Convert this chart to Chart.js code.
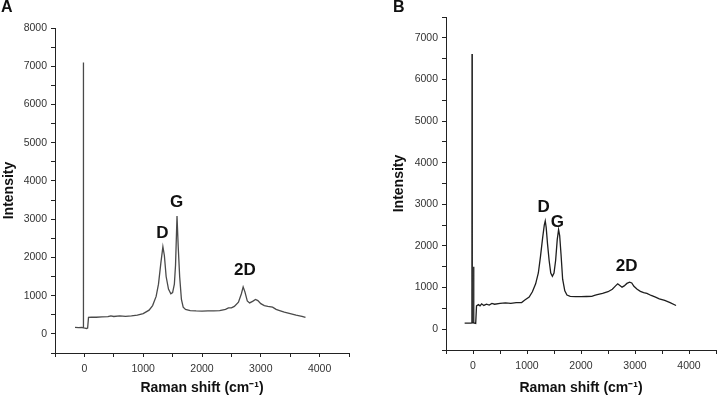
<!DOCTYPE html>
<html>
<head>
<meta charset="utf-8">
<script src="https://cdn.jsdelivr.net/npm/chart.js@4"></script>
<style>
  body { margin: 0; background: #fff; font-family: "Liberation Sans", Arial, sans-serif; }
  #wrap { position: relative; width: 722px; height: 397px; overflow: hidden; }
  .panel { position: absolute; top: 0; }
  .tag { position: absolute; font-weight: bold; font-size: 16px; color: #111; }
</style>
</head>
<body>
<div id="wrap">
  <div class="panel" style="left:0;"><canvas id="chartA" width="360" height="397"></canvas></div>
  <div class="panel" style="left:370px;"><canvas id="chartB" width="352" height="397"></canvas></div>
  <div class="tag" style="left:1px; top:-2px;">A</div>
  <div class="tag" style="left:393px; top:-2px;">B</div>
</div>
<script>
// Raman spectrum A (shift in cm-1, intensity)
const shiftA = [-160, -100, -40, -22, -20, -17, -15, -12, 10, 35, 55, 70, 120, 200, 300, 400, 450, 500, 600, 700, 800, 900,
  1000, 1100, 1160, 1220, 1260, 1300, 1335, 1360, 1390, 1430, 1470, 1500, 1530, 1550, 1575, 1595, 1620, 1650, 1680, 1720,
  1800, 1900, 2000, 2100, 2200, 2300, 2400, 2450, 2500, 2550, 2620, 2670, 2700, 2730, 2770, 2810, 2860, 2910, 2950, 3000,
  3060, 3120, 3200, 3260, 3320, 3400, 3500, 3600, 3700, 3760];
const intensityA = [170, 165, 170, 160, 7100, 3600, 5050, 160, 150, 140, 155, 430, 440, 435, 445, 450, 470, 455, 470, 460, 470, 490,
  530, 620, 740, 980, 1300, 1850, 2280, 2050, 1500, 1170, 1050, 1080, 1300, 1800, 3080, 2300, 1500, 900, 700, 640,
  610, 600, 595, 600, 600, 610, 640, 680, 680, 720, 830, 1050, 1230, 1100, 860, 810, 850, 900, 870, 790,
  740, 720, 700, 640, 610, 570, 530, 490, 460, 430];

// Raman spectrum B
const shiftB = [-155, -100, -40, -20, -18, -15, -12, 5, 12, 16, 50, 65, 100, 130, 160, 200, 250, 300, 350, 400, 500, 600, 700,
  800, 900, 960, 1040, 1100, 1160, 1210, 1250, 1290, 1320, 1338, 1355, 1380, 1410, 1440, 1470, 1500, 1530, 1560, 1585,
  1605, 1630, 1660, 1700, 1740, 1800, 1900, 2000, 2100, 2200, 2250, 2300, 2400, 2500, 2580, 2640, 2680, 2720, 2760,
  2800, 2850, 2900, 2940, 2980, 3040, 3100, 3160, 3220, 3300, 3380, 3450, 3550, 3650, 3760];
const intensityB = [145, 145, 145, 150, 6610, 4660, 150, 150, 1500, 150, 140, 560, 590, 560, 610, 570, 600, 580, 620, 600, 620, 630, 620,
  640, 640, 700, 770, 900, 1090, 1350, 1750, 2200, 2500, 2600, 2450, 2050, 1650, 1350, 1270, 1350, 1650, 2150, 2390,
  2250, 1800, 1200, 920, 820, 790, 780, 780, 785, 790, 810, 830, 860, 900, 960, 1040, 1090, 1050, 1010,
  1040, 1100, 1130, 1110, 1030, 960, 910, 880, 860, 810, 770, 730, 690, 640, 570];

// peak labels (text, shift, intensity where the text sits)
const peakNames = ['D', 'G', '2D'];
const peakPosA = [[1328, 2620], [1568, 3430], [2730, 1650]];
const peakPosB = [[1307, 2920], [1561, 2560], [2845, 1500]];

const xTicks = [-500, 0, 500, 1000, 1500, 2000, 2500, 3000, 3500, 4000, 4500];

const peakLabels = {
  id: 'peakLabels',
  afterDatasetsDraw(chart, args, opts) {
    const { ctx, scales: { x, y } } = chart;
    ctx.save();
    ctx.font = 'bold 17px "Liberation Sans", Arial, sans-serif';
    ctx.fillStyle = '#111';
    ctx.textAlign = 'center';
    ctx.textBaseline = 'middle';
    opts.pos.forEach((p, i) => {
      ctx.fillText(peakNames[i], x.getPixelForValue(p[0]), y.getPixelForValue(p[1]));
    });
    ctx.restore();
  }
};

function makeChart(id, xs, ys, lineColor, cfg) {
  const points = xs.map((v, i) => ({ x: v, y: ys[i] }));
  const tickFont = { family: '"Liberation Sans", Arial, sans-serif', size: 10.5 };
  const titleFont = { family: '"Liberation Sans", Arial, sans-serif', size: 14, weight: 'bold' };
  return new Chart(document.getElementById(id), {
    type: 'line',
    data: {
      datasets: [{
        data: points,
        borderColor: lineColor,
        borderWidth: 1.3,
        pointRadius: 0,
        tension: 0,
        fill: false
      }]
    },
    options: {
      responsive: false,
      animation: false,
      layout: { padding: cfg.padding },
      plugins: {
        legend: { display: false },
        tooltip: { enabled: false },
        peakLabels: { pos: cfg.peaks }
      },
      scales: {
        x: {
          type: 'linear',
          min: -500,
          max: 4500,
          afterBuildTicks: (s) => { s.ticks = xTicks.map(v => ({ value: v })); },
          afterFit: (s) => { s.height = cfg.xHeight; },
          grid: { drawOnChartArea: false, drawTicks: true, tickLength: 4, color: '#222' },
          border: { color: '#222', width: 1 },
          ticks: {
            autoSkip: false,
            maxRotation: 0,
            padding: 6,
            color: '#333',
            font: tickFont,
            callback: (v) => (v % 1000 === 0 && v >= 0 && v <= 4000 ? String(v) : '')
          },
          title: { display: true, text: 'Raman shift (cm⁻¹)', color: '#111', font: titleFont, padding: { top: 0, bottom: 0 } }
        },
        y: {
          min: -500,
          max: cfg.yMax,
          afterBuildTicks: (s) => {
            const t = [];
            for (let v = -500; v <= cfg.yMax; v += 500) t.push({ value: v });
            s.ticks = t;
          },
          afterFit: (s) => { s.width = cfg.yWidth; },
          grid: { drawOnChartArea: false, drawTicks: true, tickLength: 4, color: '#222' },
          border: { color: '#222', width: 1 },
          ticks: {
            autoSkip: false,
            padding: 4,
            color: '#333',
            font: tickFont,
            callback: (v) => (v % 1000 === 0 && v >= 0 ? String(v) : '')
          },
          title: { display: true, text: 'Intensity', color: '#111', font: titleFont, padding: { top: 1, bottom: 0 } }
        }
      }
    },
    plugins: [peakLabels]
  });
}

makeChart('chartA', shiftA, intensityA, '#4a4a4a', {
  padding: { left: 0, right: 11, top: 28, bottom: 0 },
  yWidth: 55, xHeight: 44, yMax: 8000, peaks: peakPosA
});
makeChart('chartB', shiftB, intensityB, '#1e1e1e', {
  padding: { left: 20, right: 1, top: 17, bottom: 0 },
  yWidth: 56, xHeight: 47, yMax: 7500, peaks: peakPosB
});
</script>
</body>
</html>
